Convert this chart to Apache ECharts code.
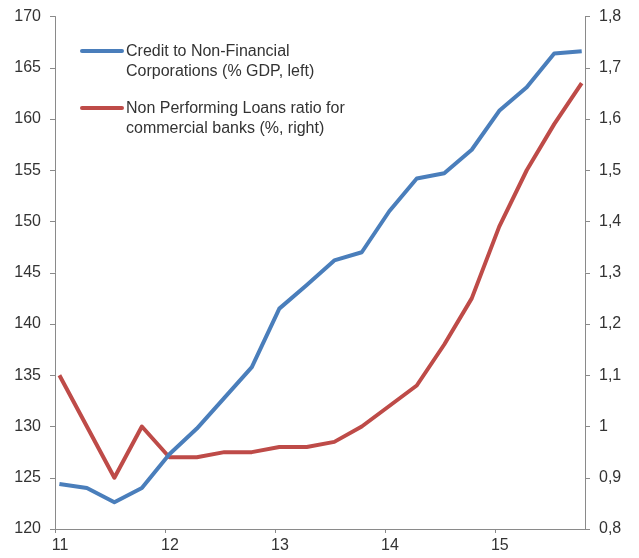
<!DOCTYPE html>
<html>
<head>
<meta charset="utf-8">
<script src="https://cdn.jsdelivr.net/npm/echarts@6/dist/echarts.min.js"></script>
<style>
html,body{margin:0;padding:0;background:#fff;}
#chart{width:639px;height:558px;}
</style>
</head>
<body>
<div id="chart"></div>
<script>
// Quarterly observations, position in years (axis labels are two-digit years)
const quarterPos = [11.04, 11.29, 11.54, 11.79, 12.04, 12.29, 12.54, 12.79, 13.04, 13.29,
                    13.54, 13.79, 14.04, 14.29, 14.54, 14.79, 15.04, 15.29, 15.54, 15.79];
const yearTicks = [11, 12, 13, 14, 15];
const creditNFC = [124.4, 124.0, 122.6, 124.0, 127.3, 129.8, 132.8, 135.8, 141.5, 143.8,
                   146.2, 147.0, 151.0, 154.2, 154.7, 157.0, 160.8, 163.1, 166.4, 166.6];
const nplRatio = [1.10, 1.00, 0.90, 1.00, 0.94, 0.94, 0.95, 0.95, 0.96, 0.96,
                  0.97, 1.00, 1.04, 1.08, 1.16, 1.25, 1.39, 1.50, 1.59, 1.67];
const seriesNames = ['Credit to Non-Financial\nCorporations (% GDP, left)',
                     'Non Performing Loans ratio for\ncommercial banks (%, right)'];
const colors = ['#4A7EBB', '#BE4B48'];

const chart = echarts.init(document.getElementById('chart'), null, {renderer: 'canvas'});
const axisColor = '#8a8a8a';
const labelStyle = {color: '#333', fontSize: 16, fontFamily: 'Liberation Sans, Arial, sans-serif'};

function pairs(vals) { return vals.map((v, i) => [quarterPos[i], v]); }

const option = {
  animation: false,
  backgroundColor: '#fff',
  grid: {left: 55, right: 54, top: 16.5, bottom: 29, containLabel: false},
  xAxis: {
    type: 'value', min: 11, max: 15.82, interval: 1,
    axisLine: {show: true, lineStyle: {color: axisColor, width: 1}},
    axisTick: {show: true, length: 4, lineStyle: {color: axisColor}, customValues: yearTicks},
    splitLine: {show: false},
    axisLabel: Object.assign({margin: 9, padding: [0, 0, 0, 10], customValues: yearTicks,
      formatter: v => (Math.abs(v - Math.round(v)) < 1e-6 ? String(Math.round(v)) : '')}, labelStyle)
  },
  yAxis: [{
    type: 'value', min: 120, max: 170, interval: 5, position: 'left',
    axisLine: {show: true, lineStyle: {color: axisColor, width: 1}},
    axisTick: {show: true, length: 5, lineStyle: {color: axisColor}},
    splitLine: {show: false},
    axisLabel: Object.assign({margin: 14}, labelStyle)
  }, {
    type: 'value', min: 0.8, max: 1.8, interval: 0.1, position: 'right',
    axisLine: {show: true, lineStyle: {color: axisColor, width: 1}},
    axisTick: {show: true, length: 5, lineStyle: {color: axisColor}},
    splitLine: {show: false},
    axisLabel: Object.assign({margin: 14, formatter: v => {
      let s = (Math.round(v * 10) / 10).toFixed(1);
      if (s.endsWith('.0')) s = s.slice(0, -2);
      return s.replace('.', ',');
    }}, labelStyle)
  }],
  series: [{
    name: seriesNames[0], type: 'line', yAxisIndex: 0, data: pairs(creditNFC),
    showSymbol: false, symbol: 'none', lineStyle: {color: colors[0], width: 4, join: 'round'},
    itemStyle: {color: colors[0]}, z: 3
  }, {
    name: seriesNames[1], type: 'line', yAxisIndex: 1, data: pairs(nplRatio),
    showSymbol: false, symbol: 'none', lineStyle: {color: colors[1], width: 4, join: 'round'},
    itemStyle: {color: colors[1]}, z: 2
  }],
  graphic: [
    {type: 'line', shape: {x1: 82, y1: 51, x2: 122, y2: 51}, style: {stroke: colors[0], lineWidth: 4, lineCap: 'round'}},
    {type: 'text', left: 126, top: 42, style: {text: seriesNames[0], fill: '#333', font: '16px "Liberation Sans", Arial, sans-serif', lineHeight: 20}},
    {type: 'line', shape: {x1: 82, y1: 108, x2: 122, y2: 108}, style: {stroke: colors[1], lineWidth: 4, lineCap: 'round'}},
    {type: 'text', left: 126, top: 99, style: {text: seriesNames[1], fill: '#333', font: '16px "Liberation Sans", Arial, sans-serif', lineHeight: 20}}
  ]
};
chart.setOption(option);
</script>
</body>
</html>
